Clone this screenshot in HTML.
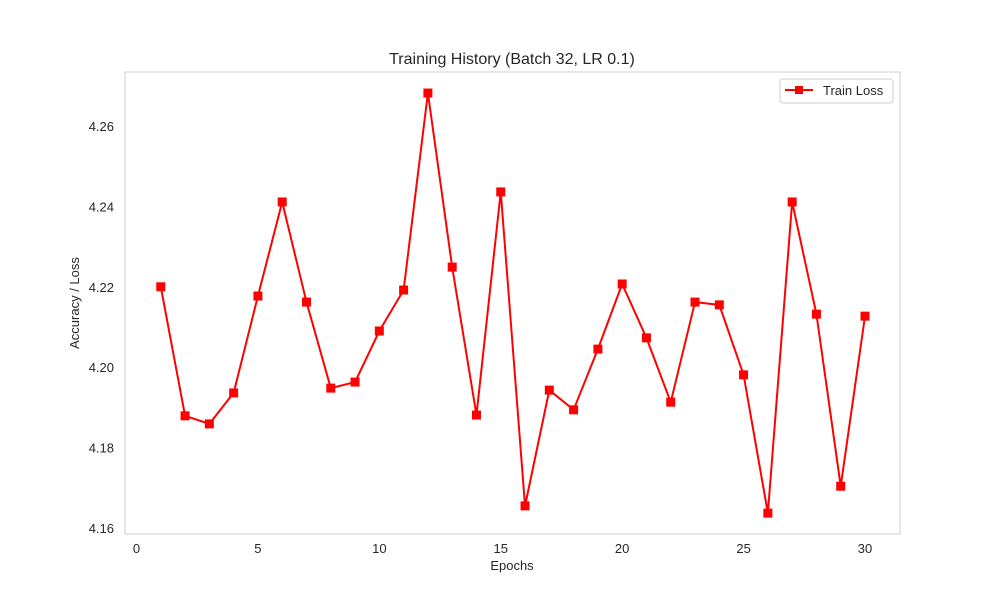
<!DOCTYPE html>
<html><head><meta charset="utf-8"><style>
body{margin:0;background:#fff;}
svg{display:block;font-family:"Liberation Sans","DejaVu Sans",sans-serif;}
</style></head><body>
<svg id="chart" width="1000" height="600">
<rect x="0" y="0" width="1000" height="600" fill="#fff"/>
<rect x="125" y="72" width="775" height="462" fill="#fff" stroke="#cccccc" stroke-width="1"/>
<text x="512" y="64" text-anchor="middle" font-size="16" fill="#262626">Training History (Batch 32, LR 0.1)</text>
<text x="512" y="570" text-anchor="middle" font-size="13" fill="#262626">Epochs</text>
<text transform="translate(79,303) rotate(-90)" text-anchor="middle" font-size="13" fill="#262626">Accuracy / Loss</text>
<g id="xticks"></g><g id="yticks"></g><g id="series"></g>
<g>
<rect x="780" y="79" width="113" height="24" rx="3" fill="#fff" stroke="#cccccc"/>
<line x1="785" y1="90" x2="813" y2="90" stroke="#ff0000" stroke-width="2"/>
<rect x="795" y="86" width="8" height="8" fill="#ff0000"/>
<text x="823" y="95" font-size="13" fill="#262626">Train Loss</text>
</g>
</svg>
<script>
const epochs=[1,2,3,4,5,6,7,8,9,10,11,12,13,14,15,16,17,18,19,20,21,22,23,24,25,26,27,28,29,30];
const trainLoss=[4.2200,4.1879,4.1859,4.1936,4.2177,4.2411,4.2162,4.1948,4.1963,4.2090,4.2192,4.2682,4.2249,4.1881,4.2436,4.1655,4.1943,4.1894,4.2045,4.2207,4.2073,4.1913,4.2162,4.2155,4.1981,4.1637,4.2411,4.2132,4.1704,4.2127];
const xTicks=[0,5,10,15,20,25,30];
const yTicks=[4.16,4.18,4.20,4.22,4.24,4.26];
const yTickLabels=["4.16","4.18","4.20","4.22","4.24","4.26"];
const NS="http://www.w3.org/2000/svg";
function xs(v){return 136.5+(865-136.5)*v/30;}
function ys(v){return 528-(v-4.16)/0.10*402;}
function mk(tag,attrs,parent){const e=document.createElementNS(NS,tag);for(const k in attrs)e.setAttribute(k,attrs[k]);parent.appendChild(e);return e;}
const xg=document.getElementById('xticks'),yg=document.getElementById('yticks'),sg=document.getElementById('series');
xTicks.forEach(t=>{const e=mk('text',{x:xs(t),y:553,'text-anchor':'middle','font-size':13,fill:'#262626'},xg);e.textContent=t;

});
yTicks.forEach((t,i)=>{const e=mk('text',{x:114,y:ys(t)+5,'text-anchor':'end','font-size':13,fill:'#262626'},yg);e.textContent=yTickLabels[i];

});
const pts=epochs.map((e,i)=>xs(e)+','+ys(trainLoss[i])).join(' ');
const pl=mk('polyline',{points:pts,fill:'none',stroke:'#ff0000','stroke-width':2,'stroke-linejoin':'round'},sg);


epochs.forEach((e,i)=>{const r=mk('rect',{x:xs(e)-4.5,y:ys(trainLoss[i])-4.5,width:9,height:9,fill:'#ff0000'},sg);

});
</script>
</body></html>
